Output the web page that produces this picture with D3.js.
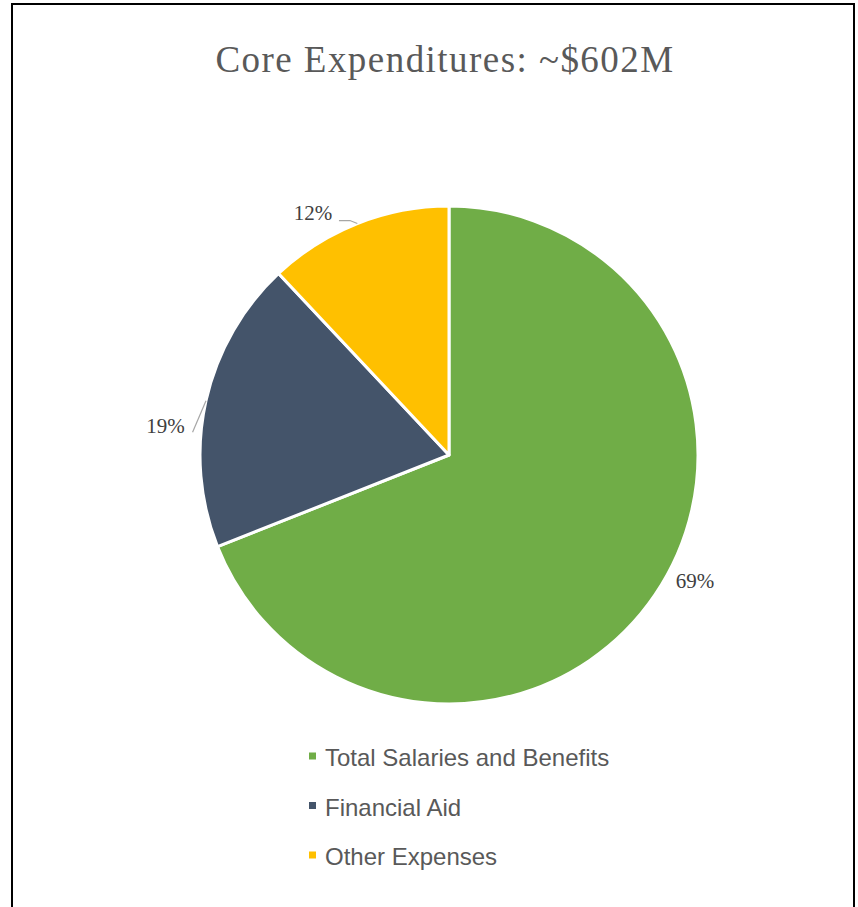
<!DOCTYPE html>
<html>
<head>
<meta charset="utf-8">
<script src="https://cdn.jsdelivr.net/npm/d3@7"></script>
<style>
  html, body { margin: 0; padding: 0; background: #fff; }
  svg { display: block; }
</style>
</head>
<body>
<script>
// ---- data ----
const title = "Core Expenditures: ~$602M";
const categories = ["Total Salaries and Benefits", "Financial Aid", "Other Expenses"];
const shares = [69, 19, 12];
const labels = ["69%", "19%", "12%"];
const colors = ["#70AD47", "#44546A", "#FFC000"];

// ---- layout (style, not data) ----
const W = 858, H = 907;
const cx = 449, cy = 455, R = 249;
// label placement as polar offsets (degrees clockwise from top, radius) — Excel best-fit style
const labelPolar = [{a: 117, r: 276}, {a: 276, r: 285}, {a: 330.7, r: 278}];
const leaderEnd = [null, {dx: 27, dy: 7}, {dx: 26, dy: 8}];

const svg = d3.select("body").append("svg").attr("width", W).attr("height", H);

svg.append("rect")
  .attr("x", 12).attr("y", 4).attr("width", 842).attr("height", 1000)
  .attr("fill", "#fff").attr("stroke", "#000").attr("stroke-width", 2);

svg.append("text")
  .attr("x", 445).attr("y", 72)
  .attr("text-anchor", "middle")
  .attr("font-family", "'Liberation Serif', 'Times New Roman', serif")
  .attr("font-size", 37)
  .attr("letter-spacing", "1.45px")
  .attr("fill", "#595959")
  .text(title);

const pie = d3.pie().sort(null).value(d => d)(shares);
const arc = d3.arc().innerRadius(0).outerRadius(R);

const g = svg.append("g").attr("transform", `translate(${cx},${cy})`);
g.selectAll("path.slice").data(pie).join("path")
  .attr("class", "slice")
  .attr("d", arc)
  .attr("fill", (d, i) => colors[i])
  .attr("stroke", "#fff")
  .attr("stroke-width", 3)
  .attr("stroke-linejoin", "round");

const rad = a => a * Math.PI / 180;
const polar = (a, r) => [r * Math.sin(rad(a)), -r * Math.cos(rad(a))];

// leader lines
pie.forEach((d, i) => {
  if (!leaderEnd[i]) return;
  const mid = (d.startAngle + d.endAngle) / 2;
  const sx = R * Math.sin(mid), sy = -R * Math.cos(mid);
  const [lx, ly] = polar(labelPolar[i].a, labelPolar[i].r);
  const ex = lx + leaderEnd[i].dx, ey = ly + leaderEnd[i].dy;
  let pts;
  if (i === 2) pts = [[sx, sy], [ex + 11, ey], [ex, ey]];
  else pts = [[sx, sy], [ex, ey]];
  g.append("path")
    .attr("d", d3.line()(pts))
    .attr("fill", "none")
    .attr("stroke", "#A6A6A6")
    .attr("stroke-width", 1.2);
});

g.selectAll("text.lbl").data(pie).join("text")
  .attr("class", "lbl")
  .attr("x", (d, i) => polar(labelPolar[i].a, labelPolar[i].r)[0])
  .attr("y", (d, i) => polar(labelPolar[i].a, labelPolar[i].r)[1])
  .attr("dy", "0.35em")
  .attr("text-anchor", "middle")
  .attr("font-family", "'Liberation Serif', 'Times New Roman', serif")
  .attr("font-size", 21)
  .attr("fill", "#404040")
  .text((d, i) => labels[i]);

// legend
const leg = svg.append("g");
const rows = leg.selectAll("g").data(categories).join("g")
  .attr("transform", (d, i) => `translate(309, ${766 + i * 49.5})`);
rows.append("rect")
  .attr("x", 0).attr("y", -13.5).attr("width", 7).attr("height", 7)
  .attr("fill", (d, i) => colors[i]);
rows.append("text")
  .attr("x", 16).attr("y", 0)
  .attr("font-family", "'Liberation Sans', Arial, sans-serif")
  .attr("font-size", 24)
  .attr("fill", "#595959")
  .text(d => d);
</script>
</body>
</html>
